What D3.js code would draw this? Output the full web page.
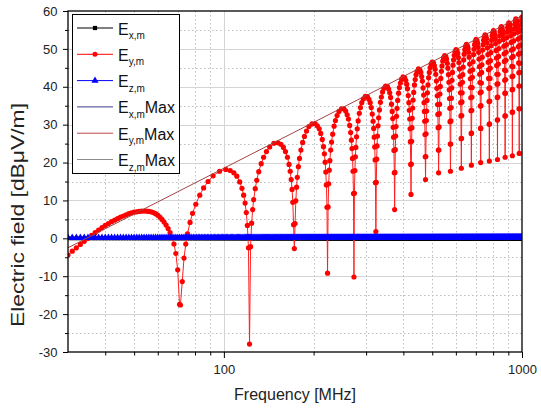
<!DOCTYPE html>
<html>
<head>
<meta charset="utf-8">
<script src="https://cdn.jsdelivr.net/npm/d3@7"></script>
<style>
  body { margin: 0; background: #fff; }
  svg text { font-family: Arial, "Liberation Sans", sans-serif; fill: #222; }
</style>
</head>
<body>
<div id="chart"></div>
<script>
// Frequency sweep of the x and z components [MHz]; both sit at 0 dBuV/m.
var sweepStart = 30, sweepStop = 1000, sweepStep = 1;
var exLevel = 0;
var ezLevel = 0;

// E_y,m, one line per lobe (null to null).
var eyFreq = [
  30, 31, 32, 33, 34, 35, 36, 37, 38, 39, 40, 41, 42, 43, 44, 45, 46, 47, 48, 49, 50,
  51, 52, 53, 54, 55, 56, 57, 58, 59, 60, 61, 62, 63, 64, 65, 66, 67, 68, 69, 70, 71, 71.5,
  72.5, 73.5, 74.5, 75.5, 77, 78.5, 80.5, 83, 85.5, 88.5, 92, 96.7, 101.5, 105, 108, 110.5, 113, 115, 116.5, 117.8, 118.9, 119.9, 120.9, 121.9,
  122.9, 123.9, 124.9, 125.9, 127.4, 128.9, 130.9, 133.4, 135.9, 138.9, 142.4, 147.1, 151.9, 155.4, 158.4, 160.9, 163.4, 165.4, 166.9, 168.2, 169.3, 170.3, 171.3, 172.3,
  173.3, 174.3, 175.3, 176.3, 177.8, 179.3, 181.3, 183.8, 186.3, 189.3, 192.8, 197.5, 202.3, 205.8, 208.8, 211.3, 213.8, 215.8, 217.3, 218.6, 219.7, 220.7, 221.7, 222.7,
  223.7, 224.7, 225.7, 226.7, 228.2, 229.7, 231.7, 234.2, 236.7, 239.7, 243.2, 247.9, 252.7, 256.2, 259.2, 261.7, 264.2, 266.2, 267.7, 269.0, 270.1, 271.1, 272.1, 273.1,
  274.1, 275.1, 276.1, 277.1, 278.6, 280.1, 282.1, 284.6, 287.1, 290.1, 293.6, 298.3, 303.1, 306.6, 309.6, 312.1, 314.6, 316.6, 318.1, 319.4, 320.5, 321.5, 322.5, 323.5,
  324.5, 325.5, 326.5, 327.5, 329, 330.5, 332.5, 335, 337.5, 340.5, 344, 348.7, 353.5, 357, 360, 362.5, 365, 367, 368.5, 369.8, 370.9, 371.9, 372.9, 373.9,
  374.9, 375.9, 376.9, 377.9, 379.4, 380.9, 382.9, 385.4, 387.9, 390.9, 394.4, 399.1, 403.9, 407.4, 410.4, 412.9, 415.4, 417.4, 418.9, 420.2, 421.3, 422.3, 423.3, 424.3,
  425.3, 426.3, 427.3, 428.3, 429.8, 431.3, 433.3, 435.8, 438.3, 441.3, 444.8, 449.5, 454.3, 457.8, 460.8, 463.3, 465.8, 467.8, 469.3, 470.6, 471.7, 472.7, 473.7, 474.7,
  475.7, 476.7, 477.7, 478.7, 480.2, 481.7, 483.7, 486.2, 488.7, 491.7, 495.2, 499.9, 504.7, 508.2, 511.2, 513.7, 516.2, 518.2, 519.7, 521, 522.1, 523.1, 524.1, 525.1,
  526.1, 527.1, 528.1, 529.1, 530.6, 532.1, 534.1, 536.6, 539.1, 542.1, 545.6, 550.3, 555.1, 558.6, 561.6, 564.1, 566.6, 568.6, 570.1, 571.4, 572.5, 573.5, 574.5, 575.5,
  576.5, 577.5, 578.5, 579.5, 581, 582.5, 584.5, 587, 589.5, 592.5, 596, 600.7, 605.5, 609, 612, 614.5, 617, 619, 620.5, 621.8, 622.9, 623.9, 624.9, 625.9,
  626.9, 627.9, 628.9, 629.9, 631.4, 632.9, 634.9, 637.4, 639.9, 642.9, 646.4, 651.1, 655.9, 659.4, 662.4, 664.9, 667.4, 669.4, 670.9, 672.2, 673.3, 674.3, 675.3, 676.3,
  677.3, 678.3, 679.3, 680.3, 681.8, 683.3, 685.3, 687.8, 690.3, 693.3, 696.8, 701.5, 706.3, 709.8, 712.8, 715.3, 717.8, 719.8, 721.3, 722.6, 723.7, 724.7, 725.7, 726.7,
  727.7, 728.7, 729.7, 730.7, 732.2, 733.7, 735.7, 738.2, 740.7, 743.7, 747.2, 751.9, 756.7, 760.2, 763.2, 765.7, 768.2, 770.2, 771.7, 773, 774.1, 775.1, 776.1, 777.1,
  778.1, 779.1, 780.1, 781.1, 782.6, 784.1, 786.1, 788.6, 791.1, 794.1, 797.6, 802.3, 807.1, 810.6, 813.6, 816.1, 818.6, 820.6, 822.1, 823.4, 824.5, 825.5, 826.5, 827.5,
  828.5, 829.5, 830.5, 831.5, 833, 834.5, 836.5, 839, 841.5, 844.5, 848, 852.7, 857.5, 861, 864, 866.5, 869, 871, 872.5, 873.8, 874.9, 875.9, 876.9, 877.9,
  878.9, 879.9, 880.9, 881.9, 883.4, 884.9, 886.9, 889.4, 891.9, 894.9, 898.4, 903.1, 907.9, 911.4, 914.4, 916.9, 919.4, 921.4, 922.9, 924.2, 925.3, 926.3, 927.3, 928.3,
  929.3, 930.3, 931.3, 932.3, 933.8, 935.3, 937.3, 939.8, 942.3, 945.3, 948.8, 953.5, 958.3, 961.8, 964.8, 967.3, 969.8, 971.8, 973.3, 974.6, 975.7, 976.7, 977.7, 978.7,
  979.7, 980.7, 981.7, 982.7, 984.2, 985.7, 987.7, 990.2, 992.7, 995.7, 999.2, 1000
];
var eyField = [
  -4.4, -3.4, -2.5, -1.6, -0.8, 0.0, 0.8, 1.5, 2.2, 2.8, 3.4, 3.9, 4.4, 4.8, 5.2, 5.6, 5.9, 6.2, 6.5, 6.7, 6.9,
  7.0, 7.1, 7.2, 7.2, 7.2, 7.1, 7.0, 6.8, 6.5, 6.1, 5.6, 5.0, 4.3, 3.5, 2.6, 1.5, 0.2, -1.5, -4.0, -8.3, -17.4, -17.6,
  -11.4, -5.2, -1.5, 1.2, 4.2, 6.6, 9.0, 11.4, 13.3, 15.0, 16.5, 17.7, 18.2, 17.9, 17.3, 16.4, 14.9, 13.2, 11.4, 9.3, 6.8, 3.4, -2.5, -27.9,
  -2.2, 4.0, 7.6, 10.2, 13.1, 15.3, 17.6, 19.7, 21.4, 22.9, 24.1, 25.1, 25.2, 24.8, 24.0, 22.9, 21.4, 19.5, 17.7, 15.5, 12.9, 9.5, 3.6, -2.7,
  3.9, 9.9, 13.5, 16.1, 18.9, 21.1, 23.3, 25.3, 26.9, 28.3, 29.5, 30.2, 30.3, 29.7, 28.9, 27.7, 26.1, 24.2, 22.3, 20.1, 17.5, 14.1, 8.2, -9.2,
  8.3, 14.4, 18.0, 20.5, 23.3, 25.4, 27.5, 29.6, 31.1, 32.4, 33.5, 34.2, 34.2, 33.6, 32.6, 31.5, 29.8, 27.9, 25.9, 23.7, 21.1, 17.7, 11.8, -10.2,
  11.9, 17.9, 21.5, 24.0, 26.8, 28.9, 31.0, 33.0, 34.5, 35.8, 36.8, 37.5, 37.4, 36.7, 35.8, 34.5, 32.8, 30.9, 29.0, 26.7, 24.1, 20.7, 14.7, 1.8,
  14.8, 20.9, 24.4, 27.0, 29.7, 31.8, 33.9, 35.9, 37.3, 38.6, 39.6, 40.2, 40.1, 39.4, 38.4, 37.2, 35.4, 33.5, 31.6, 29.3, 26.7, 23.2, 17.3, 7.6,
  17.4, 23.4, 27.0, 29.5, 32.2, 34.3, 36.4, 38.3, 39.8, 41.0, 42.0, 42.6, 42.4, 41.7, 40.7, 39.5, 37.7, 35.8, 33.8, 31.5, 28.9, 25.5, 19.5, 11.6,
  19.6, 25.6, 29.2, 31.7, 34.4, 36.5, 38.5, 40.5, 41.9, 43.2, 44.1, 44.7, 44.5, 43.8, 42.7, 41.5, 39.7, 37.8, 35.8, 33.5, 30.9, 27.4, 21.5, 15.5,
  21.6, 27.6, 31.1, 33.6, 36.4, 38.4, 40.5, 42.4, 43.8, 45.0, 46.0, 46.5, 46.3, 45.6, 44.6, 43.3, 41.5, 39.6, 37.6, 35.3, 32.7, 29.2, 23.3, 17.3,
  23.3, 29.4, 32.9, 35.4, 38.1, 40.1, 42.2, 44.1, 45.5, 46.8, 47.7, 48.2, 48.0, 47.3, 46.2, 44.9, 43.2, 41.2, 39.2, 36.9, 34.3, 30.8, 24.9, 17.7,
  24.9, 31.0, 34.5, 37.0, 39.7, 41.7, 43.8, 45.7, 47.1, 48.3, 49.2, 49.8, 49.5, 48.8, 47.7, 46.4, 44.7, 42.7, 40.7, 38.4, 35.8, 32.3, 26.3, 18.5,
  26.4, 32.4, 36.0, 38.4, 41.2, 43.2, 45.2, 47.1, 48.6, 49.8, 50.7, 51.2, 50.9, 50.2, 49.1, 47.8, 46.0, 44.1, 42.1, 39.8, 37.1, 33.7, 27.7, 19.3,
  27.8, 33.8, 37.3, 39.8, 42.5, 44.5, 46.6, 48.5, 49.9, 51.1, 52.0, 52.5, 52.2, 51.5, 50.4, 49.1, 47.3, 45.3, 43.3, 41.1, 38.4, 34.9, 29.0, 20.0,
  29.0, 35.0, 38.6, 41.0, 43.8, 45.8, 47.8, 49.7, 51.1, 52.3, 53.2, 53.7, 53.4, 52.7, 51.6, 50.3, 48.5, 46.5, 44.5, 42.2, 39.6, 36.1, 30.1, 20.4,
  30.2, 36.2, 39.7, 42.2, 44.9, 46.9, 49.0, 50.9, 52.3, 53.5, 54.3, 54.8, 54.5, 53.8, 52.7, 51.4, 49.6, 47.6, 45.6, 43.3, 40.7, 37.2, 31.2, 20.8,
  31.3, 37.3, 40.8, 43.3, 46.0, 48.0, 50.1, 52.0, 53.4, 54.5, 55.4, 55.9, 55.6, 54.8, 53.8, 52.5, 50.7, 48.7, 46.7, 44.4, 41.7, 38.3, 32.3, 21.4,
  32.3, 38.3, 41.9, 44.3, 47.0, 49.1, 51.1, 53.0, 54.4, 55.6, 56.4, 56.9, 56.6, 55.8, 54.8, 53.5, 51.7, 49.7, 47.7, 45.4, 42.7, 39.2, 33.3, 21.8,
  33.3, 39.3, 42.8, 45.3, 48.0, 50.0, 52.1, 54.0, 55.3, 56.5, 57.4, 57.9, 57.5, 56.8, 55.7, 54.4, 52.6, 50.6, 48.6, 46.3, 43.7, 40.2, 34.2, 22.4,
  34.2, 40.2, 43.8, 46.2, 48.9, 51.0, 53.0, 54.9, 56.3, 57.4, 58.3, 58.4
];

// Envelope lines (end points of the straight lines on the log axis).
var maxFreq = [30, 1000];
var eyMax = [-2.5, 58.7];
var exMax = [0, 0];
var ezMax = [0, 0];

var yMajor = [-30, -20, -10, 0, 10, 20, 30, 40, 50, 60];
var yMinor = [-25, -15, -5, 5, 15, 25, 35, 45, 55];
var xMajor = [100, 1000];
var xMinor = [40, 50, 60, 70, 80, 90, 200, 300, 400, 500, 600, 700, 800, 900];

var legendItems = [
    { sub: "x,m", max: false, color: "#000000", symbol: d3.symbolSquare, size: 18 },
    { sub: "y,m", max: false, color: "#ff0000", symbol: d3.symbolCircle, size: 20 },
    { sub: "z,m", max: false, color: "#0000ff", symbol: d3.symbolTriangle, size: 22 },
    { sub: "x,m", max: true, color: "#3c3c96" },
    { sub: "y,m", max: true, color: "#c04848" },
    { sub: "z,m", max: true, color: "#8c8c8c" }
];

var width = 541;
var height = 409;
var box = { left: 68, right: 522, top: 11, bottom: 352 };

var svg = d3.select("#chart").append("svg")
    .attr("width", width)
    .attr("height", height);

var x = d3.scaleLog().domain([30, 1000]).range([box.left, box.right]);
var y = d3.scaleLinear().domain([-30, 60]).range([box.bottom, box.top]);

function px(v) { return Math.round(v) + 0.5; }

// Grid: solid at major ticks, dotted at minor ticks.
var grid = svg.append("g");
grid.selectAll(".vmin").data(xMinor).enter().append("line")
    .attr("x1", function(d) { return px(x(d)); })
    .attr("x2", function(d) { return px(x(d)); })
    .attr("y1", box.top).attr("y2", box.bottom)
    .style("stroke", "#bdbdbd").style("stroke-dasharray", "1.5,2.5");
grid.selectAll(".hmin").data(yMinor).enter().append("line")
    .attr("y1", function(d) { return px(y(d)); })
    .attr("y2", function(d) { return px(y(d)); })
    .attr("x1", box.left).attr("x2", box.right)
    .style("stroke", "#bdbdbd").style("stroke-dasharray", "1.5,2.5");
grid.selectAll(".vmaj").data([100]).enter().append("line")
    .attr("x1", function(d) { return px(x(d)); })
    .attr("x2", function(d) { return px(x(d)); })
    .attr("y1", box.top).attr("y2", box.bottom)
    .style("stroke", "#d4d4d4");
grid.selectAll(".hmaj").data(yMajor.slice(1, -1)).enter().append("line")
    .attr("y1", function(d) { return px(y(d)); })
    .attr("y2", function(d) { return px(y(d)); })
    .attr("x1", box.left).attr("x2", box.right)
    .style("stroke", "#d4d4d4");

// Data layer, clipped to the frame.
svg.append("clipPath").attr("id", "clip")
    .append("rect")
    .attr("x", box.left).attr("y", box.top)
    .attr("width", box.right - box.left).attr("height", box.bottom - box.top);

var plot = svg.append("g").attr("clip-path", "url(#clip)");

var line = d3.line()
    .x(function(d) { return x(d[0]); })
    .y(function(d) { return y(d[1]); });

var sweep = d3.range(sweepStart, sweepStop + sweepStep, sweepStep);
var exData = sweep.map(function(f) { return [f, exLevel]; });
var ezData = sweep.map(function(f) { return [f, ezLevel]; });
var eyData = d3.zip(eyFreq, eyField);

// Max envelopes for x and z lie on the 0 dB line, under the blue band
plot.append("path").datum(d3.zip(maxFreq, exMax)).attr("d", line)
    .style("fill", "none").style("stroke", legendItems[3].color);
plot.append("path").datum(d3.zip(maxFreq, ezMax)).attr("d", line)
    .style("fill", "none").style("stroke", legendItems[5].color);

// E_x,m
plot.append("path").datum(exData).attr("d", line)
    .style("fill", "none").style("stroke", "#000");
plot.selectAll(".exm").data(exData).enter().append("path")
    .attr("d", d3.symbol().type(d3.symbolSquare).size(16))
    .attr("transform", function(d) { return "translate(" + x(d[0]) + "," + y(d[1]) + ")"; })
    .style("fill", "#000");

// E_y,m
plot.append("path").datum(eyData).attr("d", line)
    .style("fill", "none").style("stroke", "#ff2020").style("stroke-width", 1);
plot.selectAll(".eym").data(eyData).enter().append("circle")
    .attr("cx", function(d) { return x(d[0]); })
    .attr("cy", function(d) { return y(d[1]); })
    .attr("r", 2.6)
    .style("fill", "#ff0000");

// E_z,m
plot.append("path").datum(ezData).attr("d", line)
    .style("fill", "none").style("stroke", "#0000ff").style("stroke-width", 2);
plot.selectAll(".ezm").data(ezData).enter().append("path")
    .attr("d", d3.symbol().type(d3.symbolTriangle).size(24))
    .attr("transform", function(d) { return "translate(" + x(d[0]) + "," + (y(d[1]) - 0.5) + ")"; })
    .style("fill", "#0000ff");

// E_y,m Max
plot.append("path").datum(d3.zip(maxFreq, eyMax)).attr("d", line)
    .style("fill", "none").style("stroke", "#a04444").style("stroke-width", 1);

// Axes
svg.append("g").attr("transform", "translate(" + box.left + ",0)")
    .call(d3.axisLeft(y).tickValues(yMajor).tickSize(5).tickPadding(5.5).tickSizeOuter(0)
        .tickFormat(function(d) { return String(d); }));
svg.append("g").attr("transform", "translate(" + box.left + ",0)")
    .call(d3.axisLeft(y).tickValues(yMinor).tickSize(3).tickFormat("").tickSizeOuter(0));
svg.append("g").attr("transform", "translate(0," + box.bottom + ")")
    .call(d3.axisBottom(x).tickValues(xMajor).tickSize(6).tickPadding(6.5).tickSizeOuter(0)
        .tickFormat(function(d) { return String(d); }));
svg.append("g").attr("transform", "translate(0," + box.bottom + ")")
    .call(d3.axisBottom(x).tickValues(xMinor).tickSize(3.5).tickFormat("").tickSizeOuter(0));

svg.selectAll(".domain").remove();
svg.selectAll(".tick line").style("stroke", "#000");
svg.selectAll(".tick text").style("font-size", "13px").style("font-family", "Arial, 'Liberation Sans', sans-serif").style("fill", "#222");

// Frame
svg.append("rect")
    .attr("x", box.left).attr("y", box.top)
    .attr("width", box.right - box.left).attr("height", box.bottom - box.top)
    .style("fill", "none").style("stroke", "#000").style("stroke-width", 1.3);

// Axis titles
svg.append("text")
    .attr("x", (box.left + box.right) / 2)
    .attr("y", 400)
    .attr("text-anchor", "middle")
    .style("font-size", "16px")
    .text("Frequency [MHz]");

svg.append("text")
    .attr("transform", "translate(24,215) rotate(-90)")
    .attr("text-anchor", "middle")
    .attr("textLength", 224)
    .attr("lengthAdjust", "spacingAndGlyphs")
    .style("font-size", "18px")
    .text("Electric field [dB\u03bcV/m]");

// Legend
var lg = { x: 72, y: 14, w: 107, h: 159, row: 26.3, first: 28 };
var legend = svg.append("g");
legend.append("rect")
    .attr("x", lg.x + 0.5).attr("y", lg.y + 0.5)
    .attr("width", lg.w).attr("height", lg.h)
    .style("fill", "#fff").style("stroke", "#000").style("stroke-width", 1);

var rows = legend.selectAll(".row").data(legendItems).enter().append("g")
    .attr("transform", function(d, i) { return "translate(0," + (lg.first + i * lg.row) + ")"; });

rows.append("line")
    .attr("x1", 77).attr("x2", 113).attr("y1", 0).attr("y2", 0)
    .style("stroke", function(d) { return d.color; });

rows.filter(function(d) { return d.symbol; }).append("path")
    .attr("d", function(d) { return d3.symbol().type(d.symbol).size(d.size)(); })
    .attr("transform", "translate(95,0)")
    .style("fill", function(d) { return d.color; });

var label = rows.append("text")
    .attr("x", 118)
    .attr("y", 6.5)
    .style("font-size", "16px")
    .style("fill", "#111");
label.append("tspan").text("E");
label.append("tspan").attr("dy", 4.5).style("font-size", "10px").text(function(d) { return d.sub; });
label.filter(function(d) { return d.max; }).append("tspan").attr("dy", -4.5).text("Max");
</script>
</body>
</html>
